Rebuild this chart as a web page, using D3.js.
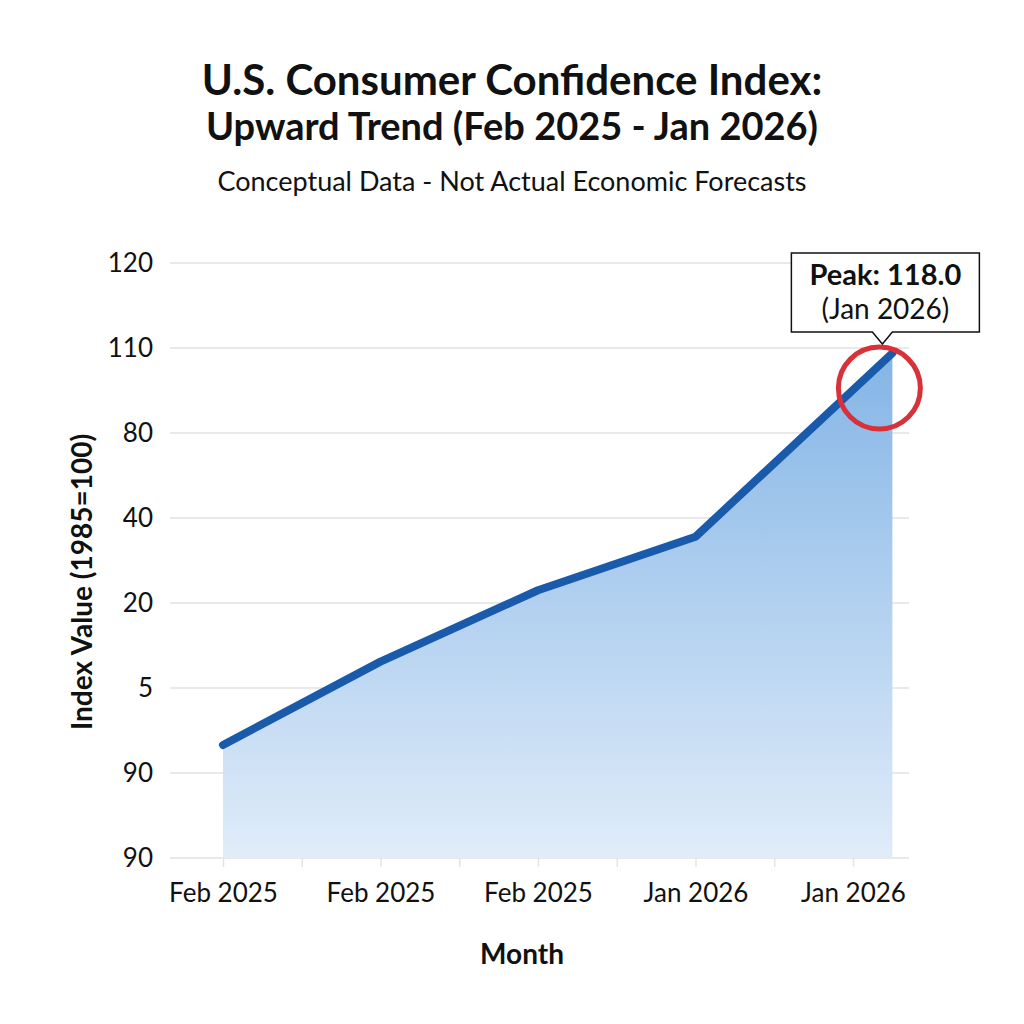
<!DOCTYPE html>
<html>
<head>
<meta charset="utf-8">
<script src="https://cdn.jsdelivr.net/npm/d3@7"></script>
<style>
  body { margin: 0; background: #fff; }
  text { font-family: Lato, "Open Sans", sans-serif; fill: #111; }
</style>
</head>
<body>
<svg width="1024" height="1024"></svg>
<script>
// tick labels as drawn (bottom to top)
var yTickLabels = ["90", "90", "5", "20", "40", "80", "110", "120"];
var xTickLabels = ["Feb 2025", "Feb 2025", "Feb 2025", "Jan 2026", "Jan 2026"];
// month position (half-step ticks) and index level in grid units
var monthPos = [0, 2, 4, 6, 8.5];
var indexLevel = [1.33, 2.31, 3.15, 3.78, 5.94];
var peakLabel = ["Peak: 118.0", "(Jan 2026)"];

var data = monthPos.map(function(m, i) { return {m: m, v: indexLevel[i]}; });

var svg = d3.select("svg");
var plotLeft = 170, plotRight = 909, plotTop = 263, plotBottom = 858;

var xScale = d3.scaleLinear().domain([0, 8]).range([223, 853]);
var yScale = d3.scaleLinear().domain([0, 7]).range([plotBottom, plotTop]);

// titles
svg.append("text").attr("x", 512).attr("y", 95).attr("text-anchor", "middle")
  .style("font-size", "42px").style("font-weight", "bold")
  .text("U.S. Consumer Confidence Index:");
svg.append("text").attr("x", 512).attr("y", 140).attr("text-anchor", "middle")
  .style("font-size", "38px").style("font-weight", "bold")
  .text("Upward Trend (Feb 2025 - Jan 2026)");
svg.append("text").attr("x", 512).attr("y", 191).attr("text-anchor", "middle")
  .style("font-size", "27px")
  .text("Conceptual Data - Not Actual Economic Forecasts");

// gridlines
svg.append("g").selectAll("line")
  .data(d3.range(0, 8))
  .enter().append("line")
  .attr("x1", plotLeft).attr("x2", plotRight)
  .attr("y1", function(d) { return yScale(d); })
  .attr("y2", function(d) { return yScale(d); })
  .attr("stroke", "#e2e2e2").attr("stroke-width", 1.5);

// gradient fill
var grad = svg.append("defs").append("linearGradient")
  .attr("id", "fillGrad").attr("x1", 0).attr("y1", 0).attr("x2", 0).attr("y2", 1);
grad.append("stop").attr("offset", "0%").attr("stop-color", "#84b5e6");
grad.append("stop").attr("offset", "100%").attr("stop-color", "#e0ecf9");

var area = d3.area()
  .x(function(d) { return xScale(d.m); })
  .y0(plotBottom)
  .y1(function(d) { return yScale(d.v); });
svg.append("path").datum(data)
  .attr("d", area)
  .attr("fill", "url(#fillGrad)");

var line = d3.line()
  .x(function(d) { return xScale(d.m); })
  .y(function(d) { return yScale(d.v); });
svg.append("path").datum(data)
  .attr("d", line)
  .attr("fill", "none")
  .attr("stroke", "#1a5aab")
  .attr("stroke-width", 8)
  .attr("stroke-linecap", "round")
  .attr("stroke-linejoin", "round");

// x axis
var xAxis = d3.axisBottom(xScale)
  .tickValues(d3.range(0, 9))
  .tickSize(9)
  .tickPadding(17)
  .tickFormat(function(d) { return d % 2 === 0 ? xTickLabels[d / 2] : ""; });
var gx = svg.append("g").attr("transform", "translate(0," + plotBottom + ")").call(xAxis);
gx.select(".domain").remove();
gx.selectAll(".tick line").attr("stroke", "#e4e4e4").attr("stroke-width", 1.5);
gx.selectAll(".tick text").style("font-size", "26px").style("fill", "#111")
  .style("font-family", "Lato, sans-serif");

// y axis
var yAxis = d3.axisLeft(yScale)
  .tickValues(d3.range(0, 8))
  .tickSize(0)
  .tickPadding(0)
  .tickFormat(function(d) { return yTickLabels[d]; });
var gy = svg.append("g").attr("transform", "translate(153,0)").call(yAxis);
gy.select(".domain").remove();
gy.selectAll(".tick text").style("font-size", "26px").style("fill", "#111")
  .style("font-family", "Lato, sans-serif");

// axis titles
svg.append("text").attr("x", 522).attr("y", 964).attr("text-anchor", "middle")
  .style("font-size", "28px").style("font-weight", "bold").text("Month");
svg.append("text")
  .attr("transform", "translate(92,582) rotate(-90)")
  .attr("text-anchor", "middle")
  .style("font-size", "28px").style("font-weight", "bold")
  .text("Index Value (1985=100)");

// peak highlight
var last = data[data.length - 1];
var px = xScale(last.m), py = yScale(last.v);
svg.append("circle")
  .attr("cx", px - 13).attr("cy", py + 35).attr("r", 41)
  .attr("fill", "none").attr("stroke", "#d9313a").attr("stroke-width", 5);

var bx = px - 101, by = py - 100, bw = 188, bh = 79;
var tip = px - 10;
svg.append("path")
  .attr("d", "M" + bx + "," + by + "H" + (bx + bw) + "V" + (by + bh) +
    "H" + (tip + 10) + "L" + tip + "," + (py - 9) + "L" + (tip - 10) + "," + (by + bh) +
    "H" + bx + "Z")
  .attr("fill", "#fff").attr("stroke", "#111").attr("stroke-width", 1.5);
svg.append("text").attr("x", bx + bw / 2).attr("y", by + 32).attr("text-anchor", "middle")
  .style("font-size", "29px").style("font-weight", "bold").text(peakLabel[0]);
svg.append("text").attr("x", bx + bw / 2).attr("y", by + 66).attr("text-anchor", "middle")
  .style("font-size", "28px").text(peakLabel[1]);
</script>
</body>
</html>
